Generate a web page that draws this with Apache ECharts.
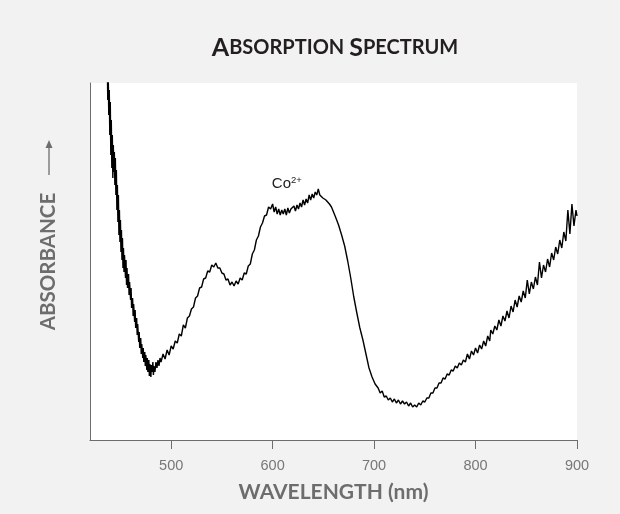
<!DOCTYPE html>
<html>
<head>
<meta charset="utf-8">
<script src="https://cdn.jsdelivr.net/npm/echarts@6/dist/echarts.min.js"></script>
<style>
  html, body { margin: 0; padding: 0; background: #f2f2f2; }
  #chart { width: 620px; height: 514px; }
</style>
</head>
<body>
<div id="chart"></div>
<script>
// [wavelength (nm), absorbance (arb. units)], noise included
var shortEdge = [
  [437, 3.80], [437.5, 3.40], [438, 3.62], [438.5, 3.25], [439, 3.50], [439.5, 3.05], [440, 3.38], [440.5, 2.85],
  [441, 3.20], [441.5, 2.72], [442, 3.05], [442.5, 2.62], [443, 2.95], [443.5, 2.68], [444, 2.88], [444.5, 2.55],
  [445, 2.82], [445.5, 2.45], [446, 2.70], [446.5, 2.30], [447, 2.55], [447.5, 2.18], [448, 2.45], [448.5, 2.05],
  [449, 2.30], [449.5, 1.98], [450, 2.20], [450.5, 1.88], [451, 2.10], [451.5, 1.80], [452, 2.02], [452.5, 1.72],
  [453, 1.92], [453.5, 1.68], [454, 1.85], [455, 1.62], [455.5, 1.80], [456, 1.55], [456.5, 1.72], [457, 1.52],
  [458, 1.66], [458.5, 1.45], [459, 1.58], [460, 1.40], [460.5, 1.52], [461, 1.32], [462, 1.42], [462.5, 1.24],
  [463, 1.36], [464, 1.18], [464.5, 1.30], [465, 1.12], [466, 1.22], [466.5, 1.05], [467, 1.16], [468, 0.98],
  [468.5, 1.08], [469, 0.92], [470, 1.02], [470.5, 0.86], [471, 0.96], [472, 0.82], [472.5, 0.92], [473, 0.78],
  [474, 0.88], [474.5, 0.74], [475, 0.85], [476, 0.70], [476.5, 0.82], [477, 0.68], [478, 0.80], [478.5, 0.64],
  [479, 0.76], [480, 0.63], [480.5, 0.75], [481, 0.68], [482, 0.78], [482.5, 0.65], [483, 0.74], [484, 0.68],
  [485, 0.78], [486, 0.72], [487, 0.80], [488, 0.74], [489, 0.82]
];
var bands = [
  [490, 0.78], [492, 0.86], [494, 0.81], [496, 0.90], [498, 0.85], [500, 0.94], [502, 0.91], [504, 0.99],
  [506, 0.97], [508, 1.06], [510, 1.04], [512, 1.15], [514, 1.12], [516, 1.22], [518, 1.24], [520, 1.31],
  [522, 1.33], [524, 1.42], [526, 1.44], [528, 1.52], [530, 1.53], [532, 1.61], [534, 1.62], [536, 1.69],
  [538, 1.68], [540, 1.75], [542, 1.73], [544, 1.77], [546, 1.72], [548, 1.72], [550, 1.67], [552, 1.66],
  [554, 1.60], [556, 1.61], [558, 1.55], [560, 1.58], [562, 1.54], [564, 1.59], [566, 1.56], [568, 1.62],
  [570, 1.60], [572, 1.67], [574, 1.66], [576, 1.74], [578, 1.76], [580, 1.86], [582, 1.90], [584, 2.00],
  [586, 2.04], [588, 2.13], [590, 2.17], [592, 2.24], [594, 2.25], [596, 2.33], [598, 2.31], [600, 2.36],
  [601.5, 2.28], [603, 2.33], [604.5, 2.26], [606, 2.31], [607.5, 2.25], [609, 2.30], [610.5, 2.26], [612, 2.31],
  [613.5, 2.25], [615, 2.32], [616.5, 2.27], [618, 2.31], [619.5, 2.29], [621, 2.34], [622.5, 2.29], [624, 2.35],
  [625.5, 2.31], [627, 2.37], [628.5, 2.33], [630, 2.40], [631.5, 2.35], [633, 2.41], [634.5, 2.37], [636, 2.45],
  [637.5, 2.40], [639, 2.46], [640.5, 2.42], [642, 2.48], [643.5, 2.45], [645, 2.51], [646.5, 2.45], [648, 2.47],
  [649.5, 2.42], [651, 2.44], [652.5, 2.40], [654, 2.40], [656, 2.36], [658, 2.33], [660, 2.28], [662, 2.23],
  [665, 2.15], [668, 2.05], [671, 1.94], [674, 1.79], [677, 1.62], [680, 1.43], [683, 1.27], [686, 1.12],
  [689, 1.00], [692, 0.86], [695, 0.72], [698, 0.63], [701, 0.56], [704, 0.52]
];
var longEdge = [
  [706, 0.47], [708, 0.49], [710, 0.43], [712, 0.44], [714, 0.40], [716, 0.42], [718, 0.38], [720, 0.41],
  [722, 0.37], [724, 0.40], [726, 0.36], [728, 0.39], [730, 0.36], [732, 0.38], [734, 0.34], [736, 0.37],
  [738, 0.33], [740, 0.35], [742, 0.33], [744, 0.37], [746, 0.35], [748, 0.39], [750, 0.38], [752, 0.42],
  [754, 0.42], [756, 0.47], [758, 0.47], [760, 0.52], [762, 0.52], [764, 0.57], [766, 0.57], [768, 0.62],
  [770, 0.61], [772, 0.66], [774, 0.65], [776, 0.70], [778, 0.69], [780, 0.74], [782, 0.72], [784, 0.77],
  [786, 0.75], [788, 0.80], [790, 0.78], [792, 0.86], [794, 0.81], [796, 0.89], [798, 0.85], [800, 0.92],
  [802, 0.87], [804, 0.95], [806, 0.91], [808, 0.99], [810, 0.94], [812, 1.04], [814, 0.99], [815, 1.10],
  [817, 1.06], [819, 1.14], [821, 1.10], [823, 1.20], [825, 1.14], [827, 1.24], [829, 1.19], [831, 1.29],
  [833, 1.22], [835, 1.34], [837, 1.28], [839, 1.40], [841, 1.33], [843, 1.44], [845, 1.38], [847, 1.49],
  [849, 1.42], [851, 1.60], [853, 1.46], [855, 1.58], [857, 1.51], [859, 1.63], [861, 1.55], [863, 1.78],
  [865, 1.62], [867, 1.75], [869, 1.68], [871, 1.81], [873, 1.73], [875, 1.87], [877, 1.80], [879, 1.93],
  [881, 1.86], [883, 2.00], [885, 1.92], [887, 2.08], [889, 1.99], [891, 2.30], [893, 2.06], [895, 2.36],
  [897, 2.14], [899, 2.30], [900, 2.24]
];
var xTicks = [500, 600, 700, 800, 900];

var spectrum = shortEdge.concat(bands, longEdge);

var chart = echarts.init(document.getElementById('chart'));
chart.setOption({
  backgroundColor: '#f2f2f2',
  animation: false,
  title: {
    text: '{b|A}{s|BSORPTION} {b|S}{s|PECTRUM}',
    left: 330,
    textAlign: 'center',
    top: 30,
    textStyle: {
      rich: {
        b: { fontFamily: 'Lato', fontWeight: 'bold', fontSize: 25, color: '#231f20' },
        s: { fontFamily: 'Lato', fontWeight: 'bold', fontSize: 20, color: '#231f20' }
      }
    }
  },
  grid: {
    left: 90, right: 43, top: 83, bottom: 74,
    show: true, backgroundColor: '#ffffff', borderWidth: 0
  },
  xAxis: {
    type: 'value',
    min: 420,
    max: 900,
    name: 'WAVELENGTH (nm)',
    nameLocation: 'middle',
    nameGap: 42,
    nameTextStyle: { fontFamily: 'Lato', fontWeight: 'bold', fontSize: 21, color: '#6d6d6d' },
    axisLine: { show: true, lineStyle: { color: '#6d6d6d', width: 1 } },
    axisTick: { show: true, inside: false, length: 9, customValues: xTicks, lineStyle: { color: '#6d6d6d' } },
    axisLabel: { customValues: xTicks, margin: 18, fontFamily: 'Liberation Sans', fontSize: 14.5, color: '#777777' },
    splitLine: { show: false }
  },
  yAxis: {
    type: 'value',
    min: 0,
    max: 3.57,
    name: 'ABSORBANCE',
    nameLocation: 'middle',
    nameRotate: 90,
    nameGap: 31,
    nameTextStyle: { fontFamily: 'Lato', fontWeight: 'bold', fontSize: 20.5, color: '#6d6d6d' },
    axisLine: { show: true, lineStyle: { color: '#6d6d6d', width: 1 } },
    axisTick: { show: false },
    axisLabel: { show: false },
    splitLine: { show: false }
  },
  graphic: [
    {
      type: 'line',
      shape: { x1: 49, y1: 175, x2: 49, y2: 146 },
      style: { stroke: '#6d6d6d', lineWidth: 1.3 }
    },
    {
      type: 'polygon',
      shape: { points: [[49, 140], [45.5, 148], [52.5, 148]] },
      style: { fill: '#6d6d6d' }
    }
  ],
  series: [{
    type: 'line',
    data: spectrum,
    showSymbol: false,
    symbol: 'none',
    sampling: null,
    lineStyle: { color: '#000000', width: 1.4 },
    markPoint: {
      symbol: 'circle',
      symbolSize: 0,
      silent: true,
      data: [{
        coord: [614, 2.56],
        label: {
          show: true,
          position: 'inside',
          formatter: 'Co{sup|2+}',
          fontFamily: 'Liberation Sans',
          fontSize: 15,
          color: '#222222',
          rich: {
            sup: { fontFamily: 'Liberation Sans', fontSize: 9.5, color: '#222222', verticalAlign: 'top', padding: [0, 0, 7, 0] }
          }
        }
      }]
    }
  }]
});
</script>
</body>
</html>
